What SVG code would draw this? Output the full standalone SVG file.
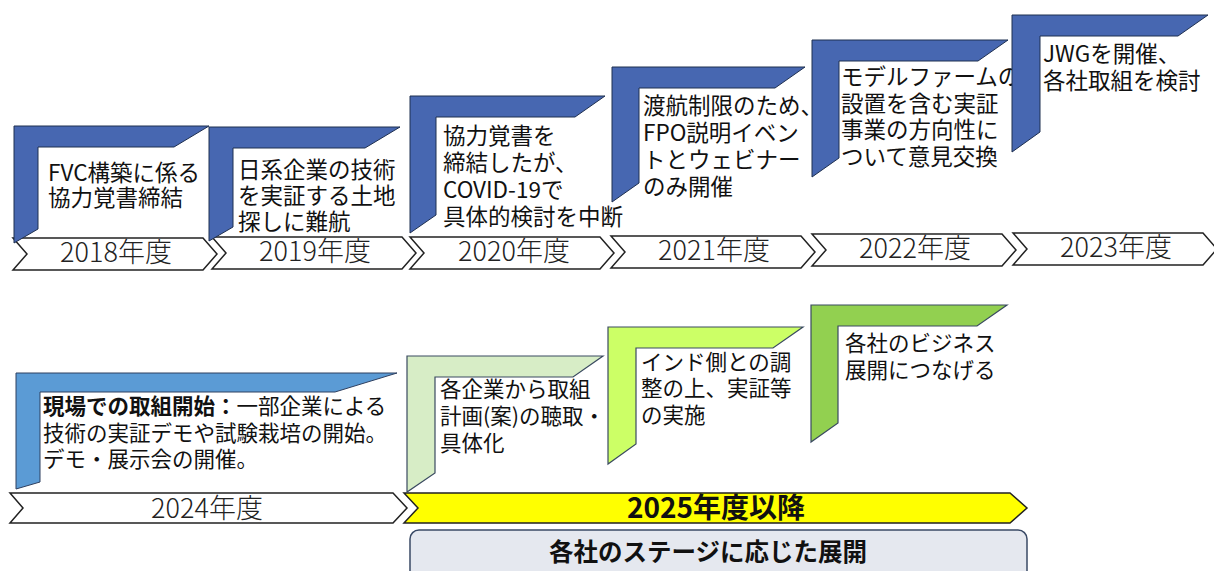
<svg xmlns="http://www.w3.org/2000/svg" width="1214" height="571" viewBox="0 0 1214 571">
<style>
text{font-family:"Noto Sans CJK JP","Noto Sans",sans-serif;fill:#111}
.t{font-size:22.5px}
.b{font-size:21.5px}
.yr{font-size:27px;text-anchor:middle;fill:#222;font-weight:300}
.chev{fill:#fff;stroke:#222;stroke-width:1.5}
.blue{fill:#4767B1;stroke:#1F3050;stroke-width:1}
.blue2{fill:#5B9BD5;stroke:#2F4060;stroke-width:1}
.g1{fill:#D7EDC6;stroke:#3A4A60;stroke-width:1.2}
.g2{fill:#CCFF66;stroke:#3A4A60;stroke-width:1.2}
.g3{fill:#92D050;stroke:#3A4A60;stroke-width:1.2}
</style>
<rect width="1214" height="571" fill="#fff"/>

<g id="timeline-top">
  <g id="y2018"><polygon class="chev" points="13,238 203,238 217,254 203,270 13,270 27,254"/><text class="yr" x="116" y="262">2018年度</text></g>
  <g id="y2019"><polygon class="chev" points="212,237 402,237 416,253 402,269 212,269 226,253"/><text class="yr" x="315" y="261">2019年度</text></g>
  <g id="y2020"><polygon class="chev" points="410,237 600,237 614,253 600,269 410,269 424,253"/><text class="yr" x="514" y="261">2020年度</text></g>
  <g id="y2021"><polygon class="chev" points="611,236 801,236 815,252 801,268 611,268 625,252"/><text class="yr" x="714" y="260">2021年度</text></g>
  <g id="y2022"><polygon class="chev" points="812,234 1002,234 1016,250 1002,266 812,266 826,250"/><text class="yr" x="915" y="258">2022年度</text></g>
  <g id="y2023"><polygon class="chev" points="1013,233 1203,233 1217,249 1203,265 1013,265 1027,249"/><text class="yr" x="1116" y="257">2023年度</text></g>
</g>

<g id="step2018">
  <polygon class="blue" points="14,126 209,126 174,147 38,147 38,229 14,243"/>
  <text class="t" x="48" y="181">FVC構築に係る<tspan x="48" dy="25">協力覚書締結</tspan></text>
</g>
<g id="step2019">
  <polygon class="blue" points="209,127 400,127 365,148 233,148 233,227 209,241"/>
  <text class="t" x="238" y="178">日系企業の技術<tspan x="238" dy="26">を実証する土地</tspan><tspan x="238" dy="26">探しに難航</tspan></text>
</g>
<g id="step2020">
  <polygon class="blue" points="410,96 605,96 575,117 436,117 436,215 410,233"/>
  <text class="t" x="443" y="144">協力覚書を<tspan x="443" dy="27">締結したが、</tspan><tspan x="443" dy="27">COVID-19で</tspan><tspan x="443" dy="27">具体的検討を中断</tspan></text>
</g>
<g id="step2021">
  <polygon class="blue" points="612,67 805,67 775,88 639,88 639,183 612,202"/>
  <text class="t" x="643" y="114">渡航制限のため、<tspan x="643" dy="27">FPO説明イベン</tspan><tspan x="643" dy="27">トとウェビナー</tspan><tspan x="643" dy="27">のみ開催</tspan></text>
</g>
<g id="step2022">
  <polygon class="blue" points="812,40 1008,40 978,61 839,61 839,158 812,177"/>
  <text class="t" x="841" y="85">モデルファームの<tspan x="841" dy="27">設置を含む実証</tspan><tspan x="841" dy="26">事業の方向性に</tspan><tspan x="841" dy="27">ついて意見交換</tspan></text>
</g>
<g id="step2023">
  <polygon class="blue" points="1012,15 1208,15 1178,36 1040,36 1040,132 1012,152"/>
  <text class="t" x="1043" y="62">JWGを開催、<tspan x="1043" dy="27">各社取組を検討</tspan></text>
</g>

<g id="timeline-bottom">
  <g id="y2024"><polygon class="chev" points="10,493 393,493 407,508 393,523 10,523 23,508"/><text class="yr" x="207" y="518">2024年度</text></g>
  <g id="y2025"><polygon fill="#FFFF00" stroke="#222" stroke-width="1.5" points="404,493 1010,493 1027,508 1010,523 404,523 418,508"/><text x="716" y="518" font-size="28" font-weight="700" text-anchor="middle">2025年度以降</text></g>
</g>

<g id="step2024">
  <polygon class="blue2" points="16,373 397,373 335,392 40,392 40,482 16,489"/>
  <text class="b" x="43" y="414"><tspan font-weight="700">現場での取組開始：</tspan>一部企業による<tspan x="43" dy="27">技術の実証デモや試験栽培の開始。</tspan><tspan x="43" dy="26">デモ・展示会の開催。</tspan></text>
</g>
<g id="stage1">
  <polygon class="g1" points="407,356 603,356 573,377 435,377 435,473 407,492"/>
  <text class="b" x="440" y="397">各企業から取組<tspan x="440" dy="27">計画(案)の聴取・</tspan><tspan x="440" dy="27">具体化</tspan></text>
</g>
<g id="stage2">
  <polygon class="g2" points="608,327 803,327 773,348 636,348 636,444 608,464"/>
  <text class="b" x="641" y="370">インド側との調<tspan x="641" dy="26">整の上、実証等</tspan><tspan x="641" dy="27">の実施</tspan></text>
</g>
<g id="stage3">
  <polygon class="g3" points="811,305 1007,305 977,326 838,326 838,423 811,442"/>
  <text class="b" x="845" y="351">各社のビジネス<tspan x="845" dy="27">展開につなげる</tspan></text>
</g>

<g id="summary">
  <rect x="410" y="530" width="617" height="56" rx="9" fill="#E5E8EF" stroke="#3A4A66" stroke-width="1.5"/>
  <text x="708" y="561" font-size="24.5" font-weight="700" text-anchor="middle" fill="#333">各社のステージに応じた展開</text>
</g>

<g id="connectors"></g>
</svg>
